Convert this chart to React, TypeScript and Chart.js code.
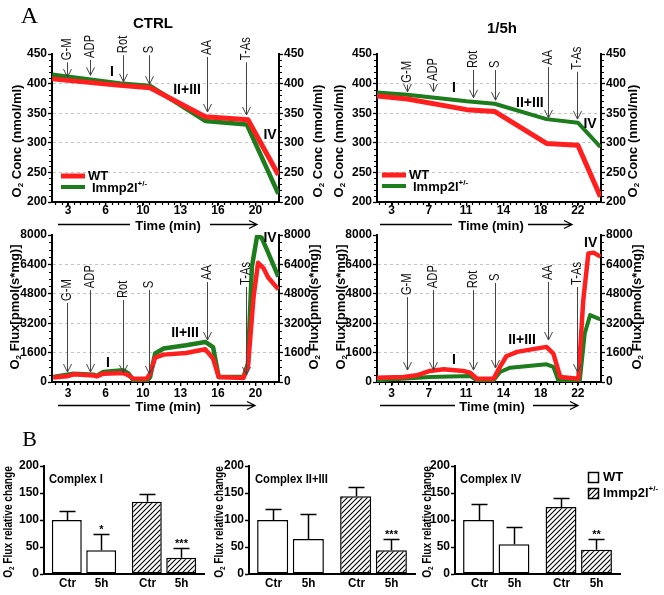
import { useEffect, useRef } from 'react';
import { Chart, registerables } from 'chart.js';

Chart.register(...registerables);

const FONT = "'Liberation Sans', Arial, Helvetica, sans-serif";
const SERIF = "'Liberation Serif', 'Times New Roman', serif";
const RED = '#ff1f1f';
const GREEN = '#1d7d1d';

// ---------------- Panel A data ----------------
const injectionLabels = ['G-M', 'ADP', 'Rot', 'S', 'AA', 'T-As'];
const phaseLabels = ['I', 'II+III', 'IV'];
const seriesNames = ['WT', 'Immp2l'];

const ctrlTimeTicks = [3, 6.333, 9.667, 13, 16.333, 19.667];
const ctrlTimeLabels = ['3', '6', '10', '13', '16', '20'];
const h5TimeTicks = [3, 6.8, 10.6, 14.4, 18.2, 22];
const h5TimeLabels = ['3', '7', '11', '14', '18', '22'];

// O2 concentration (nmol/ml), CTRL
const ctrlConcWTTime = [1.6, 7.6, 10.3, 15.2, 19.0, 21.7];
const ctrlConcWT = [408, 397, 393, 344, 339, 246];
const ctrlConcKOTime = [1.6, 7.6, 10.3, 15.2, 18.9, 21.7];
const ctrlConcKO = [415, 400, 396, 337, 331, 214];

// O2 concentration (nmol/ml), 1/5h
const h5ConcTime = [1.5, 4.6, 10.65, 13.5, 18.8, 22.0, 24.3];
const h5ConcWT = [379, 374, 356, 353, 299, 296, 209];
const h5ConcKO = [385, 381, 370, 366, 340, 334, 293];

// O2 flux (pmol/(s*mg)), CTRL
const ctrlFluxWTTime = [1.7, 2.9, 3.5, 5.25, 5.55, 6.15, 7.9, 8.4, 8.8, 10.0, 10.3, 10.75, 11.5, 13.5, 15.2, 15.9, 16.4, 18.6, 19.0, 19.5, 19.9, 20.4, 20.8, 21.7];
const ctrlFluxWT = [240, 310, 420, 360, 310, 455, 490, 360, 180, 180, 455, 1330, 1490, 1580, 1780, 1270, 270, 220, 820, 4640, 6490, 6180, 5690, 5040];
const ctrlFluxKOTime = [1.7, 3.5, 5.25, 5.55, 6.15, 7.9, 8.4, 8.8, 10.0, 10.3, 10.75, 11.5, 13.5, 15.2, 15.9, 16.4, 18.6, 19.0, 19.35, 19.8, 20.2, 20.7, 21.7];
const ctrlFluxKO = [270, 450, 400, 330, 550, 640, 450, 90, 55, 270, 1550, 1820, 2000, 2180, 1900, 270, 270, 1000, 6270, 7900, 7870, 7180, 5730];

// O2 flux (pmol/(s*mg)), 1/5h
const h5FluxWTTime = [1.47, 4.2, 5.55, 6.9, 8.3, 10.3, 11.0, 11.7, 13.4, 14.05, 14.7, 15.8, 18.8, 19.5, 20.2, 22.05, 22.55, 23.07, 23.6, 24.3];
const h5FluxWT = [236, 272, 364, 600, 690, 600, 510, 180, 180, 820, 1400, 1640, 1910, 1545, 272, 180, 4450, 7000, 7040, 6820];
const h5FluxKOTime = [1.47, 6.9, 11.0, 11.7, 13.4, 14.05, 15.1, 18.8, 19.5, 20.0, 22.2, 22.7, 23.25, 24.3];
const h5FluxKO = [90, 270, 330, 90, 90, 545, 780, 960, 820, 90, 90, 2640, 3640, 3400];

// injection arrows: time, label base value, arrow tip value
const ctrlInjTime = [2.9, 5.0, 7.85, 10.2, 15.36, 18.85];
const h5InjTime = [4.56, 7.18, 11.27, 13.54, 18.95, 21.95];
const ctrlConcInjTop = [436, 440, 448, 448, 445, 436];
const ctrlConcInjTip = [411, 414, 403, 399, 352, 347];
const h5ConcInjTop = [398, 401, 423, 423, 428, 420];
const h5ConcInjTip = [386, 386, 376, 372, 342, 340];
const ctrlFluxInjTop = [4300, 5000, 4460, 5000, 5440, 5170];
const ctrlFluxInjTip = [540, 540, 490, 435, 2285, 380];
const h5FluxInjTop = [4620, 5000, 5000, 5390, 5440, 5170];
const h5FluxInjTip = [650, 650, 650, 760, 2285, 540];

// phase label anchors (time, value)
const ctrlConcPhaseT = [6.91, 13.58, 20.96];
const ctrlConcPhaseV = [420, 389, 313];
const h5ConcPhaseT = [9.36, 17.1, 23.24];
const h5ConcPhaseV = [393, 367, 332];
const ctrlFluxPhaseT = [6.56, 13.4, 20.96];
const ctrlFluxPhaseV = [1030, 2670, 7830];
const h5FluxPhaseT = [9.36, 16.3, 23.3];
const h5FluxPhaseV = [1200, 2285, 7560];

// ---------------- Panel B data ----------------
const barGroups = ['WT', 'Immp2l'];
const barConditions = ['Ctr', '5h'];
const c1Ctr = [100, 134];
const c1CtrErr = [17, 14];
const c1H5 = [44, 30];
const c1H5Err = [31, 18];
const c1H5Sig = ['*', '***'];
const c23Ctr = [100, 144];
const c23CtrErr = [20, 17];
const c23H5 = [65, 44];
const c23H5Err = [47, 20];
const c23H5Sig = ['', '***'];
const c4Ctr = [100, 124];
const c4CtrErr = [29, 16];
const c4H5 = [55, 45];
const c4H5Err = [32, 19];
const c4H5Sig = ['', '**'];

// ---------------- helpers ----------------
type Seg = [string, 'n' | 'sub' | 'sup'];

function rich(ctx: any, segs: Seg[], x: number, y: number, size: number, align: 'left' | 'center', rot = 0, weight = 'bold', sx = 1) {
  ctx.save();
  ctx.translate(x, y);
  if (rot) ctx.rotate(rot);
  if (sx !== 1) ctx.scale(sx, 1);
  const f = (k: string) => `${weight} ${k === 'n' ? size : Math.round(size * 0.62)}px ${FONT}`;
  let total = 0;
  for (const [t, k] of segs) { ctx.font = f(k); total += ctx.measureText(t).width; }
  let cx = align === 'center' ? -total / 2 : 0;
  ctx.textBaseline = 'middle';
  ctx.textAlign = 'left';
  ctx.fillStyle = '#000';
  for (const [t, k] of segs) {
    ctx.font = f(k);
    const dy = k === 'sub' ? size * 0.32 : k === 'sup' ? -size * 0.33 : 0;
    ctx.fillText(t, cx, dy);
    cx += ctx.measureText(t).width;
  }
  ctx.restore();
}

function makeHatch(ctx: any) {
  const c = document.createElement('canvas');
  c.width = 5; c.height = 5;
  const g = c.getContext('2d')!;
  g.fillStyle = '#fff';
  g.fillRect(0, 0, 5, 5);
  g.strokeStyle = '#000';
  g.lineWidth = 1.1;
  g.beginPath();
  g.moveTo(0, 5); g.lineTo(5, 0);
  g.moveTo(-1, 1); g.lineTo(1, -1);
  g.moveTo(4, 6); g.lineTo(6, 4);
  g.stroke();
  return ctx.createPattern(c, 'repeat');
}

type Series = { name: string; t: number[]; v: number[]; color: string; width: number };
type LineSpec = {
  box: number[]; plot: number[];
  xMin: number; xMax: number; xTicks: number[]; xLabels: string[]; xPad: number;
  yMin: number; yMax: number; yStep: number; yMinor: number;
  series: Series[];
  injT: number[]; injTop: number[]; injTip: number[];
  phaseT: number[]; phaseV: number[];
  yTitle: Seg[]; yTitleX: number[]; yTitleY: number;
  time: { cx: number; y: number; a: number[]; b: number[] };
  heading?: { text: string; x: number; y: number };
  legend?: { x: number; y: number };
  letter?: { text: string; x: number; y: number };
};

const concTitle: Seg[] = [['O', 'n'], ['2', 'sub'], [' Conc (nmol/ml)', 'n']];
const fluxTitle: Seg[] = [['O', 'n'], ['2', 'sub'], [' Flux[pmol(s*mg)]', 'n']];

const lineSpecs: LineSpec[] = [
  {
    box: [0, 0, 332, 236], plot: [52, 279, 54, 202],
    xMin: 1.58, xMax: 21.76, xTicks: ctrlTimeTicks, xLabels: ctrlTimeLabels, xPad: -3,
    yMin: 200, yMax: 450, yStep: 50, yMinor: 10,
    series: [
      { name: seriesNames[0], t: ctrlConcWTTime, v: ctrlConcWT, color: RED, width: 5 },
      { name: seriesNames[1], t: ctrlConcKOTime, v: ctrlConcKO, color: GREEN, width: 4.5 },
    ],
    injT: ctrlInjTime, injTop: ctrlConcInjTop, injTip: ctrlConcInjTip,
    phaseT: ctrlConcPhaseT, phaseV: ctrlConcPhaseV,
    yTitle: concTitle, yTitleX: [17, 318], yTitleY: 141,
    time: { cx: 168, y: 226, a: [58, 130], b: [210, 257] },
    heading: { text: 'CTRL', x: 153, y: 24 },
    legend: { x: 61, y: 176 },
    letter: { text: 'A', x: 29.5, y: 17 },
  },
  {
    box: [330, 0, 334, 236], plot: [377, 601, 54, 202],
    xMin: 1.5, xMax: 24.36, xTicks: h5TimeTicks, xLabels: h5TimeLabels, xPad: -3,
    yMin: 200, yMax: 450, yStep: 50, yMinor: 10,
    series: [
      { name: seriesNames[0], t: h5ConcTime, v: h5ConcWT, color: RED, width: 5 },
      { name: seriesNames[1], t: h5ConcTime, v: h5ConcKO, color: GREEN, width: 4 },
    ],
    injT: h5InjTime, injTop: h5ConcInjTop, injTip: h5ConcInjTip,
    phaseT: h5ConcPhaseT, phaseV: h5ConcPhaseV,
    yTitle: concTitle, yTitleX: [339, 633], yTitleY: 141,
    time: { cx: 491, y: 226, a: [380, 452], b: [528, 572] },
    heading: { text: '1/5h', x: 502, y: 29 },
    legend: { x: 382, y: 175 },
  },
  {
    box: [0, 226, 332, 192], plot: [52, 279, 235, 382],
    xMin: 1.58, xMax: 21.76, xTicks: ctrlTimeTicks, xLabels: ctrlTimeLabels, xPad: 0,
    yMin: 0, yMax: 8000, yStep: 1600, yMinor: 400,
    series: [
      { name: seriesNames[0], t: ctrlFluxWTTime, v: ctrlFluxWT, color: RED, width: 4.5 },
      { name: seriesNames[1], t: ctrlFluxKOTime, v: ctrlFluxKO, color: GREEN, width: 4.5 },
    ],
    injT: ctrlInjTime, injTop: ctrlFluxInjTop, injTip: ctrlFluxInjTip,
    phaseT: ctrlFluxPhaseT, phaseV: ctrlFluxPhaseV,
    yTitle: fluxTitle, yTitleX: [15, 314], yTitleY: 307,
    time: { cx: 168, y: 407, a: [58, 130], b: [210, 255] },
  },
  {
    box: [330, 226, 334, 192], plot: [377, 601, 235, 382],
    xMin: 1.5, xMax: 24.36, xTicks: h5TimeTicks, xLabels: h5TimeLabels, xPad: 0,
    yMin: 0, yMax: 8000, yStep: 1600, yMinor: 400,
    series: [
      { name: seriesNames[0], t: h5FluxWTTime, v: h5FluxWT, color: RED, width: 4.5 },
      { name: seriesNames[1], t: h5FluxKOTime, v: h5FluxKO, color: GREEN, width: 4 },
    ],
    injT: h5InjTime, injTop: h5FluxInjTop, injTip: h5FluxInjTip,
    phaseT: h5FluxPhaseT, phaseV: h5FluxPhaseV,
    yTitle: fluxTitle, yTitleX: [341, 637], yTitleY: 307,
    time: { cx: 492, y: 407, a: [380, 455], b: [533, 578] },
  },
];

function drawLineDeco(chart: any, s: LineSpec) {
  const ctx = chart.ctx;
  const ca = chart.chartArea;
  const xs = chart.scales.x;
  const ys = chart.scales.y;
  ctx.save();
  // minor ticks
  ctx.strokeStyle = '#000';
  ctx.lineWidth = 1.2;
  ctx.beginPath();
  for (let v = s.yMin; v <= s.yMax + 1e-9; v += s.yMinor) {
    const r = v / s.yStep;
    if (Math.abs(r - Math.round(r)) < 1e-6) continue;
    const y = Math.round(ys.getPixelForValue(v)) + 0.5;
    ctx.moveTo(ca.left - 3, y); ctx.lineTo(ca.left, y);
    ctx.moveTo(ca.right, y); ctx.lineTo(ca.right + 3, y);
  }
  const xStep = (s.xTicks[1] - s.xTicks[0]) / 6;
  let v0 = s.xTicks[0];
  while (v0 - xStep >= s.xMin) v0 -= xStep;
  for (let v = v0; v <= s.xMax; v += xStep) {
    const x = Math.round(xs.getPixelForValue(v)) + 0.5;
    ctx.moveTo(x, ca.bottom); ctx.lineTo(x, ca.bottom + 3);
  }
  ctx.stroke();

  // injection arrows
  ctx.strokeStyle = '#444';
  ctx.lineWidth = 1;
  s.injT.forEach((t, i) => {
    const x = Math.round(xs.getPixelForValue(t)) + 0.5;
    const yA = ys.getPixelForValue(s.injTop[i]);
    const yB = ys.getPixelForValue(s.injTip[i]);
    ctx.beginPath();
    ctx.moveTo(x, yA); ctx.lineTo(x, yB);
    ctx.moveTo(x - 4, yB - 8); ctx.lineTo(x, yB); ctx.lineTo(x + 4, yB - 8);
    ctx.stroke();
    ctx.save();
    ctx.translate(x, yA - 2);
    ctx.rotate(-Math.PI / 2);
    ctx.scale(0.8, 1);
    ctx.font = `14px ${FONT}`;
    ctx.textAlign = 'left';
    ctx.textBaseline = 'middle';
    ctx.fillStyle = '#111';
    ctx.fillText(injectionLabels[i], 0, 0);
    ctx.restore();
  });

  // phase labels
  ctx.font = `bold 14px ${FONT}`;
  ctx.textAlign = 'center';
  ctx.textBaseline = 'middle';
  ctx.fillStyle = '#000';
  s.phaseT.forEach((t, i) => {
    ctx.fillText(phaseLabels[i], xs.getPixelForValue(t), ys.getPixelForValue(s.phaseV[i]));
  });

  // page-positioned decorations
  ctx.translate(-s.box[0], -s.box[1]);
  rich(ctx, s.yTitle, s.yTitleX[0], s.yTitleY, 13, 'center', -Math.PI / 2);
  rich(ctx, s.yTitle, s.yTitleX[1], s.yTitleY, 13, 'center', -Math.PI / 2);

  const tm = s.time;
  ctx.font = `bold 13px ${FONT}`;
  ctx.textAlign = 'center';
  ctx.textBaseline = 'middle';
  ctx.fillStyle = '#000';
  ctx.fillText('Time (min)', tm.cx, tm.y);
  ctx.strokeStyle = '#000';
  ctx.lineWidth = 1.3;
  ctx.beginPath();
  const ly = tm.y - 1.5;
  ctx.moveTo(tm.a[0], ly); ctx.lineTo(tm.a[1], ly);
  ctx.moveTo(tm.b[0], ly); ctx.lineTo(tm.b[1], ly);
  ctx.moveTo(tm.b[1] - 8, ly - 4); ctx.lineTo(tm.b[1], ly); ctx.lineTo(tm.b[1] - 8, ly + 4);
  ctx.stroke();

  if (s.heading) {
    ctx.font = `bold 15px ${FONT}`;
    ctx.fillText(s.heading.text, s.heading.x, s.heading.y);
  }
  if (s.letter) {
    ctx.font = `24px ${SERIF}`;
    ctx.fillText(s.letter.text, s.letter.x, s.letter.y);
  }
  if (s.legend) {
    const { x, y } = s.legend;
    ctx.lineCap = 'butt';
    ctx.strokeStyle = s.series[0].color;
    ctx.lineWidth = 5;
    ctx.beginPath(); ctx.moveTo(x, y); ctx.lineTo(x + 24, y); ctx.stroke();
    ctx.strokeStyle = s.series[1].color;
    ctx.lineWidth = 4;
    ctx.beginPath(); ctx.moveTo(x, y + 11); ctx.lineTo(x + 24, y + 11); ctx.stroke();
    rich(ctx, [[s.series[0].name, 'n']], x + 27, y, 13, 'left');
    rich(ctx, [[s.series[1].name, 'n'], ['+/-', 'sup']], x + 31, y + 12, 13, 'left');
  }
  ctx.restore();
}

function buildLineConfig(s: LineSpec): any {
  const [bl, bt, bw, bh] = s.box;
  const [pl, pr, pt, pb] = s.plot;
  const leftW = pl - bl;
  const rightW = bl + bw - pr;
  const topPad = pt - bt;
  const botH = bt + bh - pb;
  const tickFont = { family: FONT, size: 12, weight: 'bold' };
  const yCommon = {
    min: s.yMin, max: s.yMax,
    ticks: { stepSize: s.yStep, font: tickFont, color: '#000', padding: 1, callback: (v: any) => String(v) },
    border: { color: '#000', width: 2, dash: [3, 3] },
  };
  return {
    type: 'line',
    data: {
      datasets: s.series.map((se) => ({
        label: se.name,
        data: se.t.map((t, i) => ({ x: t, y: se.v[i] })),
        borderColor: se.color,
        backgroundColor: se.color,
        borderWidth: se.width,
        pointRadius: 0,
        tension: 0,
        fill: false,
        borderJoinStyle: 'round',
      })),
    },
    options: {
      animation: false,
      responsive: false,
      maintainAspectRatio: false,
      layout: { padding: { top: topPad, left: 0, right: 0, bottom: 0 } },
      plugins: { legend: { display: false }, tooltip: { enabled: false } },
      scales: {
        x: {
          type: 'linear', min: s.xMin, max: s.xMax,
          afterBuildTicks: (sc: any) => { sc.ticks = s.xTicks.map((v) => ({ value: v })); },
          afterFit: (sc: any) => { sc.height = botH; },
          ticks: { callback: (_v: any, i: number) => s.xLabels[i], font: tickFont, color: '#000', padding: s.xPad, autoSkip: false, maxRotation: 0, minRotation: 0 },
          grid: { drawOnChartArea: false, tickLength: 4, color: '#000', lineWidth: 1.3 },
          border: { color: '#000', width: 2 },
        },
        y: {
          ...yCommon,
          position: 'left',
          afterFit: (sc: any) => { sc.width = leftW; },
          grid: {
            color: (c: any) => (c.tick && (c.tick.value === s.yMin || c.tick.value === s.yMax) ? 'rgba(0,0,0,0)' : '#c4c4c4'),
            lineWidth: 1, tickColor: '#000', tickLength: 4, tickWidth: 1.3,
          },
        },
        y2: {
          ...yCommon,
          position: 'right',
          afterFit: (sc: any) => { sc.width = rightW; },
          grid: { drawOnChartArea: false, color: '#000', tickColor: '#000', tickLength: 4, tickWidth: 1.3 },
        },
      },
    },
    plugins: [{ id: 'deco', afterDraw: (chart: any) => drawLineDeco(chart, s) }],
  };
}

function LinePanel({ spec }: { spec: LineSpec }) {
  const ref = useRef<HTMLCanvasElement>(null);
  useEffect(() => {
    const chart = new Chart(ref.current as any, buildLineConfig(spec));
    return () => chart.destroy();
  }, [spec]);
  const [l, t, w, h] = spec.box;
  return <canvas ref={ref} width={w} height={h} style={{ position: 'absolute', left: l, top: t, width: w, height: h }} />;
}

// ---------------- Panel B ----------------
type BarSpec = {
  box: number[]; plot: number[];
  title: string; titleX: number; titleY: number;
  values: number[][]; errors: number[][]; sig: string[][];
  yTitleX: number; yTitleY: number;
  legend?: { x: number; y: number };
  letter?: { text: string; x: number; y: number };
};

const barSpecs: BarSpec[] = [
  {
    box: [0, 420, 214, 175], plot: [44, 204, 466, 574],
    title: 'Complex I', titleX: 49, titleY: 480,
    values: [c1Ctr, c1H5], errors: [c1CtrErr, c1H5Err], sig: [['', ''], c1H5Sig],
    yTitleX: 8, yTitleY: 522,
    letter: { text: 'B', x: 29.5, y: 440 },
  },
  {
    box: [210, 420, 214, 175], plot: [249, 415, 466, 574],
    title: 'Complex II+III', titleX: 255, titleY: 480,
    values: [c23Ctr, c23H5], errors: [c23CtrErr, c23H5Err], sig: [['', ''], c23H5Sig],
    yTitleX: 219, yTitleY: 522,
  },
  {
    box: [420, 420, 244, 175], plot: [455, 620, 466, 574],
    title: 'Complex IV', titleX: 460, titleY: 480,
    values: [c4Ctr, c4H5], errors: [c4CtrErr, c4H5Err], sig: [['', ''], c4H5Sig],
    yTitleX: 427, yTitleY: 522,
    legend: { x: 588, y: 472 },
  },
];

function drawBarDeco(chart: any, s: BarSpec, hatch: any) {
  const ctx = chart.ctx;
  const ys = chart.scales.y;
  ctx.save();
  s.values.forEach((vals, d) => {
    const meta = chart.getDatasetMeta(d);
    meta.data.forEach((bar: any, i: number) => {
      const x = Math.round(bar.x) + 0.5;
      const y0 = ys.getPixelForValue(vals[i]);
      const y1 = Math.round(ys.getPixelForValue(vals[i] + s.errors[d][i])) + 0.5;
      ctx.strokeStyle = '#000';
      ctx.lineWidth = 1.5;
      ctx.beginPath();
      ctx.moveTo(x, y0); ctx.lineTo(x, y1);
      ctx.moveTo(x - 8, y1); ctx.lineTo(x + 8, y1);
      ctx.stroke();
      if (s.sig[d][i]) {
        ctx.font = `bold 11px ${FONT}`;
        ctx.textAlign = 'center';
        ctx.textBaseline = 'middle';
        ctx.fillStyle = '#000';
        ctx.fillText(s.sig[d][i], x, y1 - 5);
      }
      rich(ctx, [[barConditions[d], 'n']], x, ys.bottom + 9, 13, 'center', 0, 'bold', 0.9);
    });
  });
  ctx.translate(-s.box[0], -s.box[1]);
  rich(ctx, [['O', 'n'], ['2', 'sub'], [' Flux relative change', 'n']], s.yTitleX, s.yTitleY, 13, 'center', -Math.PI / 2, 'bold', 0.78);
  rich(ctx, [[s.title, 'n']], s.titleX, s.titleY, 12.5, 'left', 0, 'bold', 0.9);
  if (s.letter) {
    ctx.font = `22px ${SERIF}`;
    ctx.textAlign = 'center';
    ctx.textBaseline = 'middle';
    ctx.fillStyle = '#000';
    ctx.fillText(s.letter.text, s.letter.x, s.letter.y);
  }
  if (s.legend) {
    const { x, y } = s.legend;
    ctx.lineWidth = 1.5;
    ctx.strokeStyle = '#000';
    ctx.fillStyle = '#fff';
    ctx.fillRect(x, y, 10, 10);
    ctx.strokeRect(x + 0.5, y + 0.5, 10, 10);
    ctx.fillStyle = hatch;
    ctx.fillRect(x, y + 16, 10, 10);
    ctx.strokeRect(x + 0.5, y + 16.5, 10, 10);
    rich(ctx, [[barGroups[0], 'n']], x + 15, y + 5.5, 13, 'left');
    rich(ctx, [[barGroups[1], 'n'], ['+/-', 'sup']], x + 15, y + 21.5, 13, 'left');
  }
  ctx.restore();
}

function BarPanel({ spec }: { spec: BarSpec }) {
  const ref = useRef<HTMLCanvasElement>(null);
  useEffect(() => {
    const canvas = ref.current as HTMLCanvasElement;
    const hatch = makeHatch(canvas.getContext('2d'));
    const [bl, bt, bw, bh] = spec.box;
    const [pl, pr, pt, pb] = spec.plot;
    const tickFont = { family: FONT, size: 12, weight: 'bold' };
    const chart = new Chart(canvas as any, {
      type: 'bar',
      data: {
        labels: barGroups,
        datasets: spec.values.map((vals, d) => ({
          label: barConditions[d],
          data: vals,
          backgroundColor: ['#ffffff', hatch],
          borderColor: '#000',
          borderWidth: 1.5,
          borderSkipped: false,
          categoryPercentage: 0.86,
          barPercentage: 0.87,
        })),
      },
      options: {
        animation: false,
        responsive: false,
        maintainAspectRatio: false,
        layout: { padding: { top: pt - bt, left: 0, right: bl + bw - pr, bottom: 0 } },
        plugins: { legend: { display: false }, tooltip: { enabled: false } },
        scales: {
          x: {
            type: 'category',
            ticks: { display: false },
            grid: { display: false },
            border: { color: '#000', width: 2 },
            afterFit: (sc: any) => { sc.height = bt + bh - pb; },
          },
          y: {
            min: 0, max: 200,
            ticks: { stepSize: 50, font: tickFont, color: '#000', padding: 1, callback: (v: any) => String(v) },
            grid: { drawOnChartArea: false, color: '#000', tickLength: 4, tickWidth: 1.5 },
            border: { color: '#000', width: 2 },
            afterFit: (sc: any) => { sc.width = pl - bl; },
          },
        },
      },
      plugins: [{ id: 'bdeco', afterDraw: (c: any) => drawBarDeco(c, spec, hatch) }],
    } as any);
    return () => chart.destroy();
  }, [spec]);
  const [l, t, w, h] = spec.box;
  return <canvas ref={ref} width={w} height={h} style={{ position: 'absolute', left: l, top: t, width: w, height: h }} />;
}

export default function App() {
  return (
    <div style={{ position: 'absolute', left: 0, top: 0, width: 664, height: 595, background: '#fff', overflow: 'hidden' }}>
      {lineSpecs.map((s, i) => <LinePanel key={'l' + i} spec={s} />)}
      {barSpecs.map((s, i) => <BarPanel key={'b' + i} spec={s} />)}
    </div>
  );
}
